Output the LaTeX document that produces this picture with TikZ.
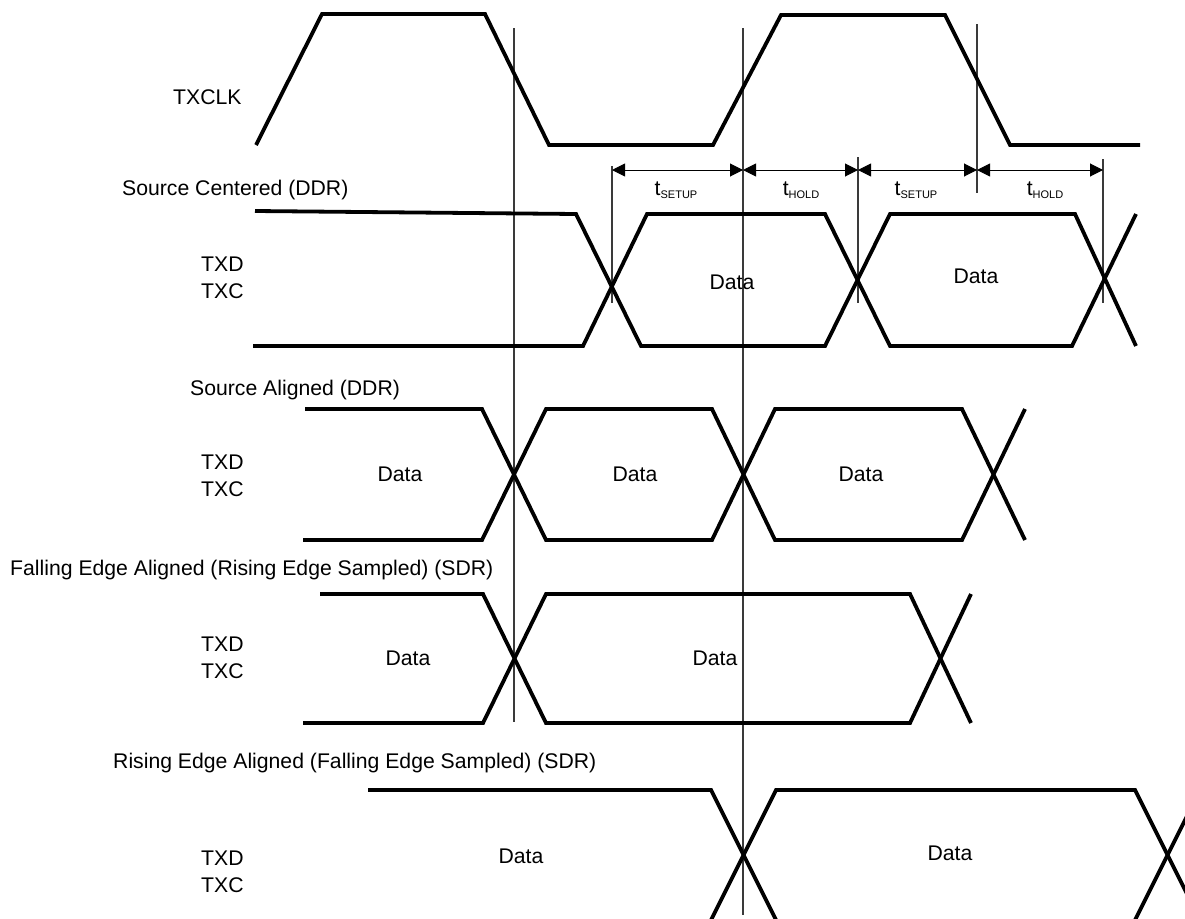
\documentclass[tikz,border=0pt]{standalone}
\usepackage{fontspec}
\setmainfont{Liberation Sans}
\usepackage{xcolor}
\usepackage{tikz}
\usetikzlibrary{positioning, arrows.meta}
\definecolor{guidegray}{HTML}{3A3A3A}
\newcommand{\tparam}[1]{t\raisebox{-2.5pt}{\fontsize{11}{11}\selectfont #1}}

\begin{document}
\begin{tikzpicture}[x=1pt, y=-1pt,
    wave/.style={line width=3.8pt, line join=miter},
    guide/.style={line width=1.2pt, draw=guidegray},
    span/.style={line width=1pt, {Triangle[length=13pt,width=13pt]}-{Triangle[length=13pt,width=13pt]}},
    lbl/.style={font=\fontsize{21.2}{27}\selectfont, inner sep=0pt},
    sig/.style={lbl, align=left, anchor=west},
    title/.style={lbl, anchor=base west}]
    \useasboundingbox (0,0) rectangle (1185,918);
    \clip (0,0) rectangle (1185,918);

    % sampling guides
    \coordinate (gA top) at (514,28);   \coordinate (gA bot) at (514,722);
    \coordinate (gB top) at (743,28);   \coordinate (gB bot) at (743,915);
    \coordinate (gC top) at (977,24);   \coordinate (gC bot) at (977,193);
    \coordinate (sA top) at (612,166);  \coordinate (sA bot) at (612,303);
    \coordinate (sB top) at (858,157);  \coordinate (sB bot) at (858,303);
    \coordinate (sC top) at (1103,159); \coordinate (sC bot) at (1103,303);
    \draw[guide] (gA top) -- (gA bot);
    \draw[guide] (gB top) -- (gB bot);
    \draw[guide] (gC top) -- (gC bot);
    \draw[guide] (sA top) -- (sA bot);
    \draw[guide] (sB top) -- (sB bot);
    \draw[guide] (sC top) -- (sC bot);

    % setup / hold spans
    \coordinate (m1) at (612,170);
    \coordinate (m2) at (743,170);
    \coordinate (m3) at (858,170);
    \coordinate (m4) at (977,170);
    \coordinate (m5) at (1103,170);
    \draw[span] (m1) -- (m2);
    \draw[span] (m2) -- (m3);
    \draw[span] (m3) -- (m4);
    \draw[span] (m4) -- (m5);
    \node[lbl] (setupA) at (676,190) {\tparam{SETUP}};
    \node[lbl] (holdA) at (801,190) {\tparam{HOLD}};
    \node[lbl] (setupB) at (916,190) {\tparam{SETUP}};
    \node[lbl] (holdB) at (1045,190) {\tparam{HOLD}};

    % TXCLK
    \node[title] (clk) at (173,104.5) {TXCLK};
    \draw[wave] (256,145) -- (322,14) -- (485,14) -- (549,145) -- (713,145)
        -- (781,15) -- (945,15) -- (1010,145) -- (1140,145);

    % source centered
    \node[title] (ctrTitle) at (122,195) {Source Centered (DDR)};
    \node[sig] (ctrSig) at (201,278) {TXD\\TXC};
    \draw[wave] (255,211) -- (576,214) -- (641,346) -- (825,346) -- (890,214)
        -- (1075,214) -- (1136,346);
    \draw[wave] (253,346) -- (583,346) -- (647,214) -- (825,214) -- (890,346)
        -- (1072,346) -- (1136,214);
    \node[lbl] (ctrData1) at (732,282) {Data};
    \node[lbl] (ctrData2) at (976,276) {Data};

    % source aligned
    \node[title] (algTitle) at (190,395) {Source Aligned (DDR)};
    \node[sig] (algSig) at (201,476) {TXD\\TXC};
    \draw[wave] (305,409) -- (482,409) -- (546,540) -- (712,540) -- (775,409)
        -- (962,409) -- (1025,540);
    \draw[wave] (303,540) -- (482,540) -- (546,409) -- (712,409) -- (775,540)
        -- (962,540) -- (1025,409);
    \node[lbl] (algData1) at (400,474) {Data};
    \node[lbl] (algData2) at (635,474) {Data};
    \node[lbl] (algData3) at (861,474) {Data};

    % falling edge aligned
    \node[title] (fallTitle) at (10,575) {Falling Edge Aligned (Rising Edge Sampled) (SDR)};
    \node[sig] (fallSig) at (201,658) {TXD\\TXC};
    \draw[wave] (320,594) -- (483,594) -- (546,723) -- (910,723) -- (971,594);
    \draw[wave] (303,723) -- (483,723) -- (546,594) -- (910,594) -- (971,723);
    \node[lbl] (fallData1) at (408,658) {Data};
    \node[lbl] (fallData2) at (715,658) {Data};

    % rising edge aligned
    \node[title] (riseTitle) at (113,768) {Rising Edge Aligned (Falling Edge Sampled) (SDR)};
    \node[sig] (riseSig) at (201,872) {TXD\\TXC};
    \draw[wave] (368,790) -- (711,790) -- (776,920);
    \draw[wave] (711,920) -- (776,790) -- (1135,790) -- (1200,920);
    \draw[wave] (1135,920) -- (1200,790);
    \node[lbl] (riseData1) at (521,856) {Data};
    \node[lbl] (riseData2) at (950,853) {Data};
\end{tikzpicture}
\end{document}
